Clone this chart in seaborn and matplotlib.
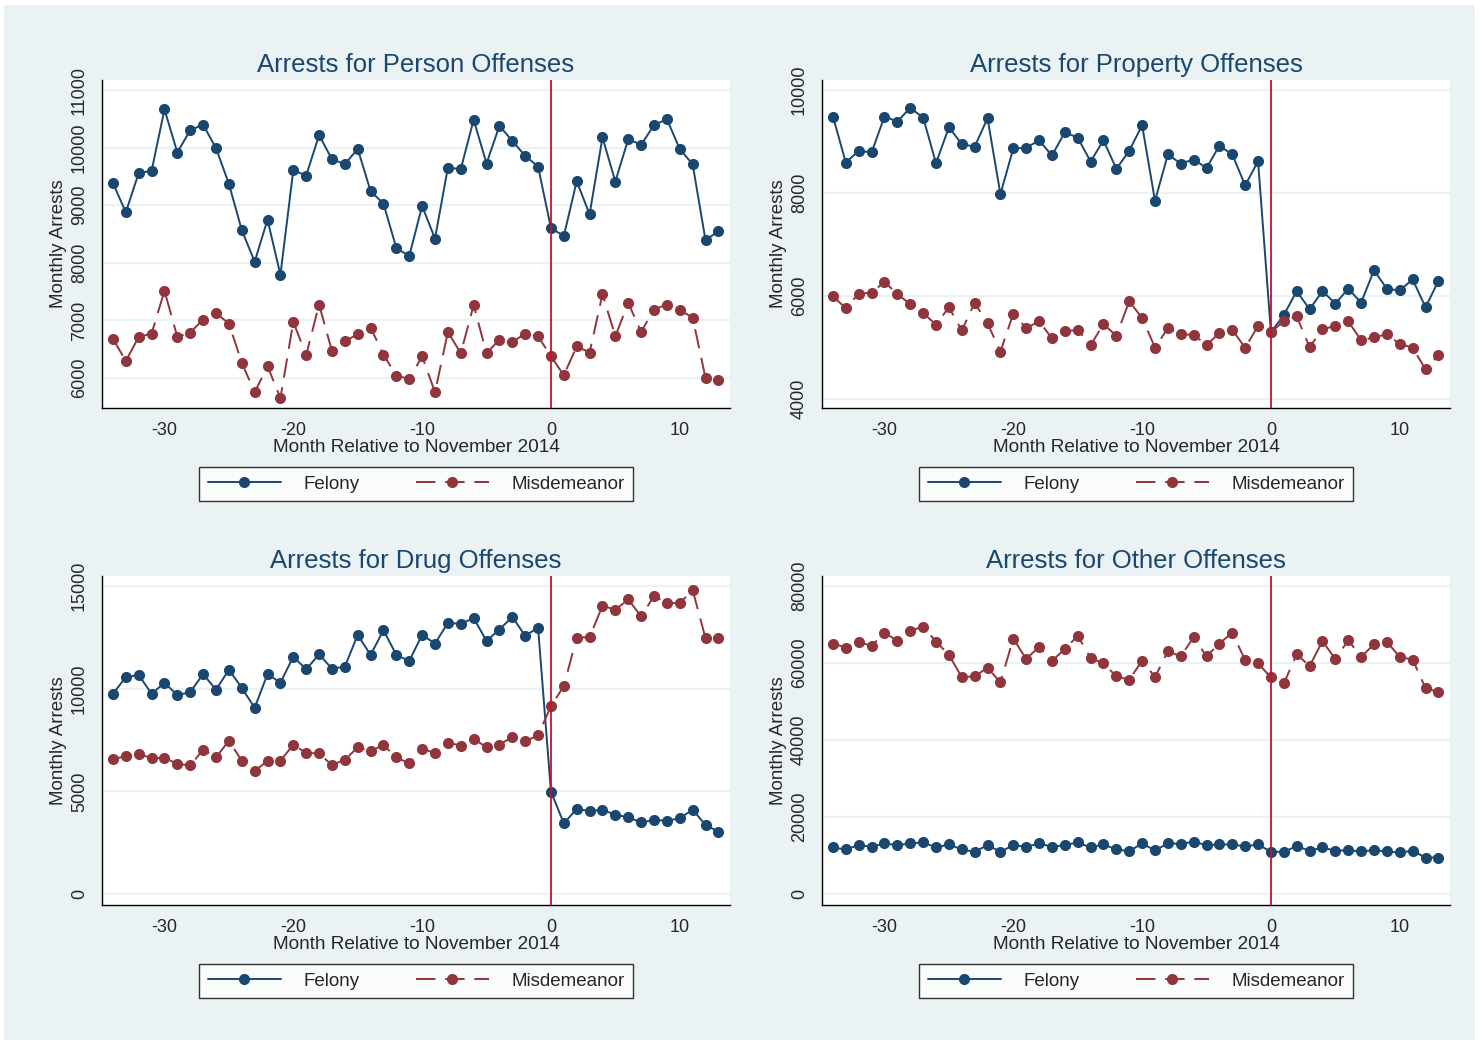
import numpy as np
import pandas as pd
import matplotlib
matplotlib.use('Agg')
import matplotlib.pyplot as plt
from matplotlib.lines import Line2D
from matplotlib.patches import Rectangle
import seaborn as sns

# months relative to November 2014
months = list(range(-34, 14))

person_felony = [9382, 8877, 9561, 9596, 10664, 9915, 10304, 10397, 9991, 9370,
                 8570, 8019, 8749, 7792, 9608, 9515, 10217, 9799, 9712, 9979,
                 9243, 9028, 8256, 8117, 8987, 8419, 9654, 9625, 10484, 9724,
                 10379, 10118, 9857, 9672, 8604, 8465, 9416, 8842, 10176, 9411,
                 10147, 10049, 10391, 10495, 9973, 9712, 8390, 8552]
person_misd = [6679, 6296, 6713, 6771, 7514, 6713, 6789, 7015, 7125, 6946,
               6267, 5751, 6204, 5652, 6975, 6395, 7276, 6470, 6638, 6760,
               6876, 6406, 6041, 5983, 6377, 5751, 6800, 6429, 7265, 6429,
               6667, 6621, 6771, 6725, 6377, 6047, 6551, 6441, 7456, 6725,
               7305, 6800, 7189, 7276, 7178, 7050, 6000, 5971]

property_felony = [9485, 8591, 8820, 8787, 9485, 9387, 9654, 9465, 8578, 9276,
                   8950, 8898, 9452, 7978, 8865, 8878, 9022, 8728, 9178, 9074,
                   8611, 9022, 8468, 8820, 9315, 7848, 8748, 8572, 8650, 8487,
                   8917, 8748, 8148, 8618, 5292, 5631, 6094, 5742, 6094, 5853,
                   6140, 5872, 6498, 6140, 6107, 6322, 5781, 6290]
property_misd = [5996, 5761, 6048, 6061, 6276, 6035, 5846, 5670, 5442, 5781,
                 5331, 5866, 5468, 4920, 5657, 5377, 5507, 5181, 5311, 5344,
                 5044, 5455, 5227, 5898, 5572, 4998, 5377, 5253, 5246, 5050,
                 5279, 5344, 4992, 5422, 5292, 5514, 5605, 5011, 5351, 5422,
                 5507, 5142, 5194, 5259, 5064, 4998, 4574, 4855]

drug_felony = [9750, 10565, 10663, 9750, 10288, 9685, 9832, 10712, 9946, 10924,
               10043, 9065, 10712, 10288, 11560, 10940, 11674, 10973, 11071, 12620,
               11641, 12848, 11641, 11348, 12620, 12196, 13207, 13158, 13435, 12326,
               12880, 13500, 12571, 12978, 4989, 3440, 4141, 4043, 4092, 3864,
               3734, 3489, 3603, 3571, 3685, 4109, 3359, 3033]
drug_misd = [6587, 6701, 6815, 6620, 6620, 6342, 6261, 7027, 6652, 7467,
             6489, 5984, 6489, 6489, 7272, 6864, 6848, 6277, 6538, 7141,
             6962, 7255, 6652, 6359, 7076, 6864, 7370, 7223, 7565, 7141,
             7272, 7647, 7435, 7728, 9147, 10125, 12489, 12505, 14038, 13842,
             14348, 13516, 14511, 14168, 14168, 14804, 12457, 12457]

other_felony = [12087, 11565, 12696, 12261, 13130, 12696, 13130, 13391, 12087, 12870,
                11565, 10957, 12696, 10957, 12696, 12261, 13130, 12261, 12696, 13391,
                12087, 12870, 11565, 11130, 13130, 11304, 13130, 13043, 13565, 12696,
                12870, 12870, 12348, 12870, 10957, 10957, 12435, 11217, 12087, 11217,
                11391, 11043, 11391, 11043, 10783, 11217, 9478, 9478]
other_misd = [65043, 64000, 65478, 64435, 67913, 65739, 68348, 69478, 65565, 62087,
              56348, 56522, 58783, 54957, 66348, 61043, 64174, 60522, 63652, 67043,
              61304, 59913, 56522, 55652, 60609, 56348, 63043, 61739, 66696, 61739,
              65043, 67913, 60696, 59913, 56261, 54696, 62261, 59217, 65652, 61043,
              65913, 61565, 64870, 65478, 61565, 60870, 53478, 52435]

titles = ['Arrests for Person Offenses', 'Arrests for Property Offenses',
          'Arrests for Drug Offenses', 'Arrests for Other Offenses']
series = [(person_felony, person_misd), (property_felony, property_misd),
          (drug_felony, drug_misd), (other_felony, other_misd)]
yticks = [[6000, 7000, 8000, 9000, 10000, 11000], [4000, 6000, 8000, 10000],
          [0, 5000, 10000, 15000], [0, 20000, 40000, 60000, 80000]]
ylims = [(5479, 11174), (3825, 10194), (-536, 15487), (-2857, 82597)]
xticks = [-30, -20, -10, 0, 10]

navy = '#1a476f'
maroon = '#90353b'
bg = '#eaf2f3'
misd_dash = (10, 5)

sns.set_style('white')
plt.rcParams['font.family'] = ['Liberation Sans', 'DejaVu Sans']
plt.rcParams['axes.unicode_minus'] = False

fig = plt.figure(figsize=(14.79, 10.42), dpi=100, facecolor='white')
fig.patches.append(Rectangle((4 / 1479, 1 - 1040 / 1042), 1471 / 1479, 1035 / 1042,
                             transform=fig.transFigure, facecolor=bg, edgecolor='none', zorder=-10))

# axes boxes in pixels: left, right, top, bottom
boxes = [(102, 730, 80, 408), (822, 1450, 80, 408),
         (102, 730, 576, 905), (822, 1450, 576, 905)]

for i in range(4):
    l, r, t, b = boxes[i]
    ax = fig.add_axes([l / 1479, 1 - b / 1042, (r - l) / 1479, (b - t) / 1042])
    ax.set_facecolor('white')
    fel, mis = series[i]
    df = pd.DataFrame({'month': months * 2,
                       'arrests': fel + mis,
                       'type': ['Felony'] * len(months) + ['Misdemeanor'] * len(months)})
    sns.lineplot(data=df, x='month', y='arrests', hue='type', style='type',
                 palette=[navy, maroon], markers=['o', 'o'], dashes=['', misd_dash],
                 markersize=8, markeredgewidth=0, linewidth=1.4, legend=False, ax=ax, zorder=3)
    ax.axvline(0, color='#c8102e', linewidth=1.3, zorder=4)
    ax.set_xlim(-34.85, 13.9)
    ax.set_ylim(*ylims[i])
    ax.set_xticks(xticks)
    ax.set_yticks(yticks[i])
    ax.set_yticklabels([str(v) for v in yticks[i]], rotation=90, va='center')
    ax.grid(axis='y', color=bg, linewidth=1.6, zorder=0)
    ax.grid(axis='x', visible=False)
    ax.set_axisbelow(True)
    for s in ['top', 'right']:
        ax.spines[s].set_visible(False)
    for s in ['left', 'bottom']:
        ax.spines[s].set_color('black')
        ax.spines[s].set_linewidth(1.0)
    ax.tick_params(axis='both', direction='out', length=5, width=1, color='#333333',
                   labelsize=13, pad=5)
    ax.set_xlabel('Month Relative to November 2014', fontsize=13.7, labelpad=0)
    ax.set_ylabel('Monthly Arrests', fontsize=13.5, labelpad=3)
    ax.set_title(titles[i], fontsize=18.5, color=navy, pad=6)

    handles = [Line2D([], [], color=navy, marker='o', markersize=8, markeredgewidth=0, linewidth=1.4),
               Line2D([], [], color=maroon, marker='o', markersize=8, markeredgewidth=0, linewidth=1.4,
                      dashes=misd_dash)]
    leg = ax.legend(handles, ['Felony', 'Misdemeanor'], loc='upper center',
                    bbox_to_anchor=(0.5, -0.18), ncol=2, frameon=True, fancybox=False,
                    fontsize=13.5, handlelength=3.9, handletextpad=1.2, columnspacing=3.0,
                    borderpad=0.45, borderaxespad=0, numpoints=1)
    leg.get_frame().set_edgecolor('black')
    leg.get_frame().set_linewidth(1.0)

fig.savefig('out.png', dpi=100, facecolor='white')
